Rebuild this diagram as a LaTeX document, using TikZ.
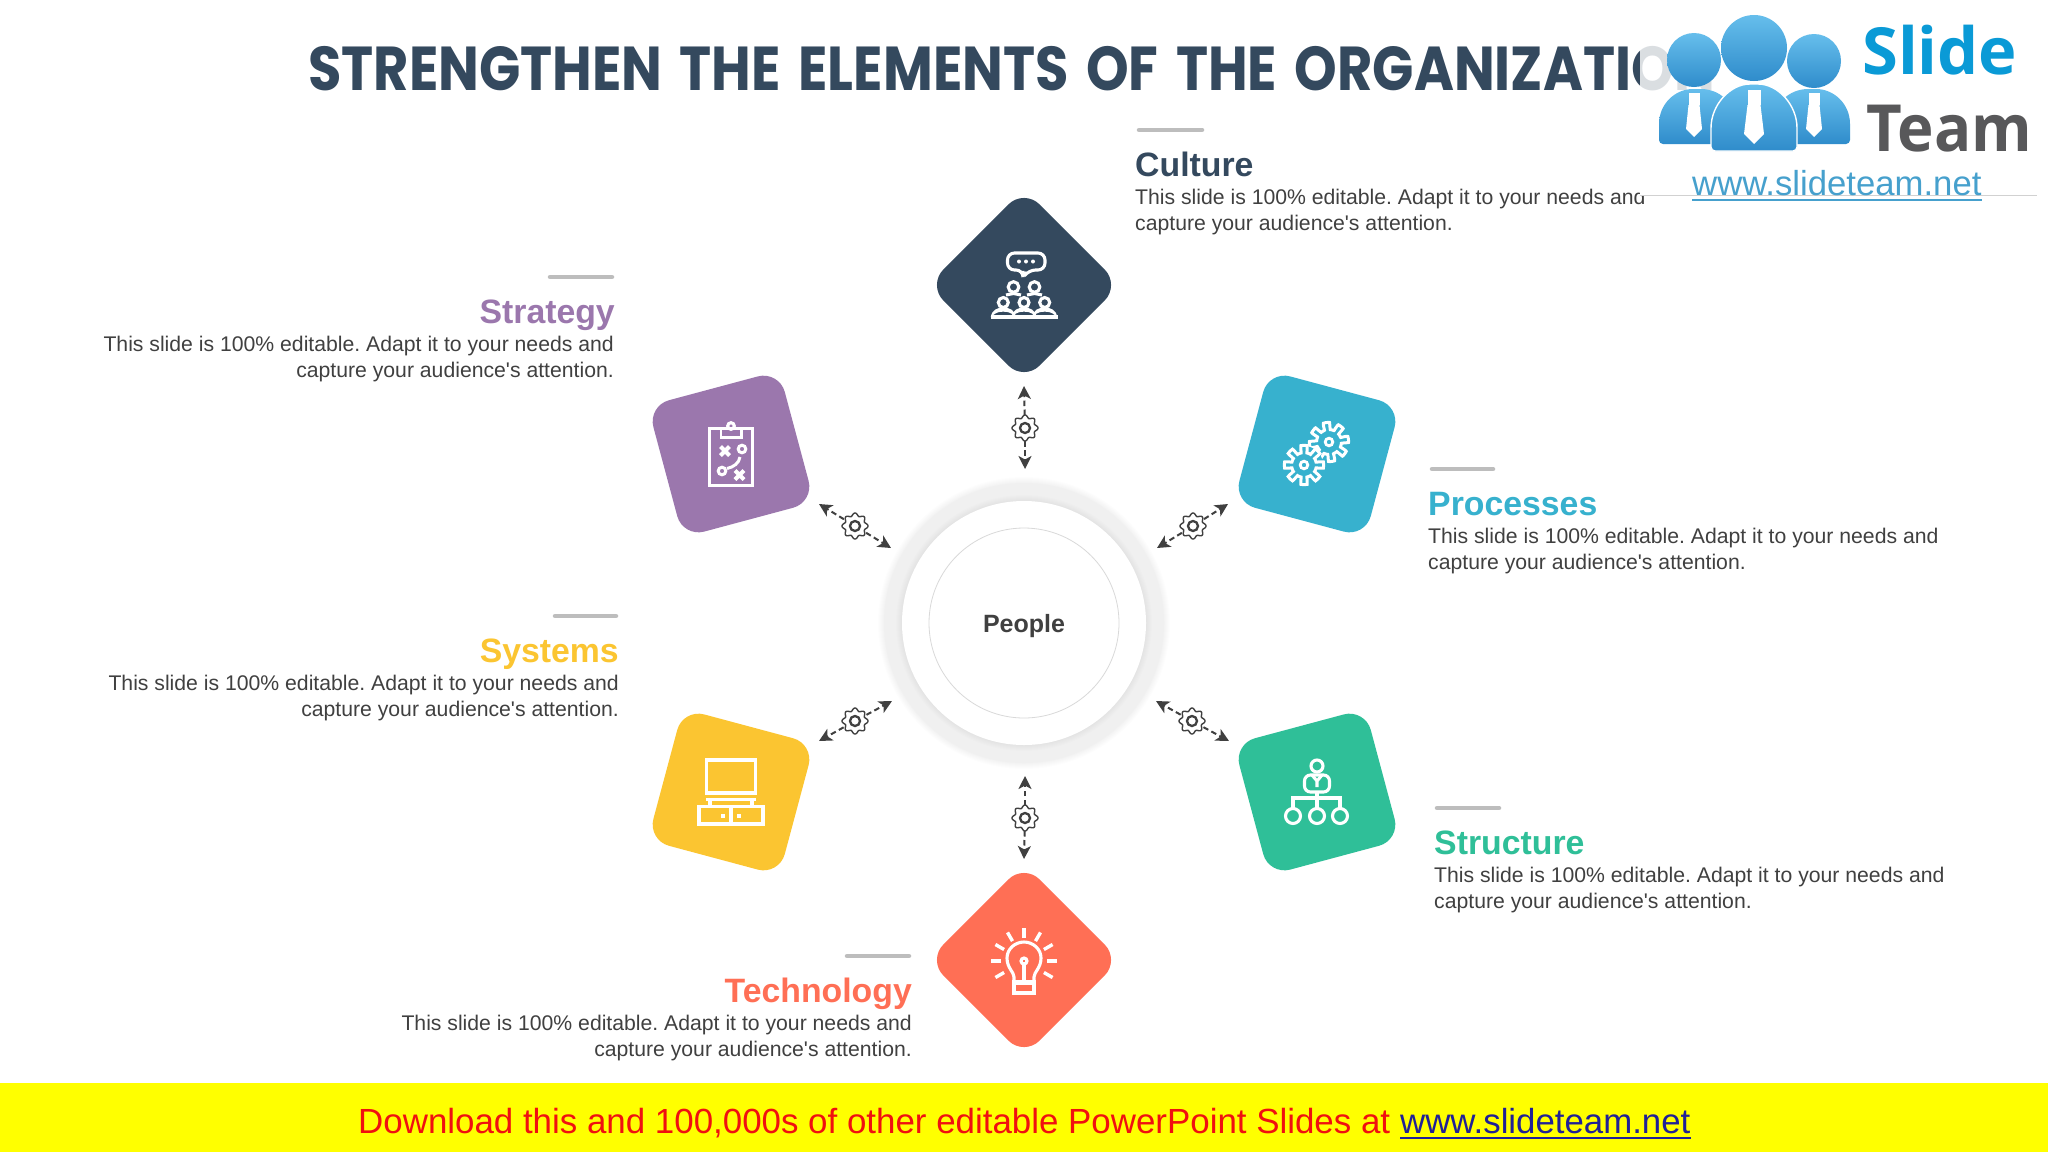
\documentclass[tikz,border=0pt]{standalone}
\usepackage{fontspec}
\setmainfont{Liberation Sans}[Ligatures=TeXOff]
\newfontfamily\titlefont{Poppins}[BoldFont={* Bold}]
\newfontfamily\logofont{Open Sans}
\usetikzlibrary{arrows.meta,calc}
\definecolor{navy}{HTML}{34495E}
\definecolor{purp}{HTML}{9B77AD}
\definecolor{sky}{HTML}{37B1CE}
\definecolor{amber}{HTML}{FBC531}
\definecolor{jade}{HTML}{2FBF98}
\definecolor{coral}{HTML}{FF6F55}
\definecolor{ink}{HTML}{404040}
\definecolor{rulegrey}{HTML}{BDBDBD}
\definecolor{bannery}{HTML}{FFFF00}
\definecolor{bannerr}{HTML}{F01010}
\definecolor{bannerb}{HTML}{202096}
\definecolor{logotop}{HTML}{66BEEC}
\definecolor{logobot}{HTML}{2F8CCB}
\definecolor{logoslide}{HTML}{0A9AD6}
\definecolor{logoteam}{HTML}{58585A}
\definecolor{logourlc}{HTML}{46A0CD}
\tikzset{
  tile/.style={fill=#1,draw=none,minimum size=136pt,inner sep=0pt,outer sep=0pt,rounded corners=22pt},
  head/.style={font=\fontsize{33.8}{36}\selectfont\bfseries,inner sep=0pt,text=#1},
  bodyL/.style={font=\fontsize{21.2}{26}\selectfont\frenchspacing,inner sep=0pt,text=ink,align=left,anchor=base west},
  bodyR/.style={font=\fontsize{21.2}{26}\selectfont\frenchspacing,inner sep=0pt,text=ink,align=right,anchor=base east},
  bar/.style={draw=rulegrey,line width=4.5pt,line cap=round},
  icon/.style={draw=white,line width=3.1pt,fill=none,line join=miter},
  cogline/.style={draw=ink,line width=1.4pt,line join=round},
  link/.style={draw=ink,line width=2pt,dash pattern=on 5.5pt off 3.5pt,-{Stealth[length=13pt,width=13pt,inset=3.5pt]}},
  hub/.style={circle,inner sep=0pt,outer sep=0pt,minimum size=26pt},
  person/.style={top color=logotop,bottom color=logobot},
}
\newcommand{\cogat}[2]{%
  \draw[cogline,fill=white] plot[domain=0:360,samples=193,variable=\t]
    ({#1+(11.6+1.4*cos(8*\t))*cos(\t)},{#2+(11.6+1.4*cos(8*\t))*sin(\t)}) -- cycle;
  \draw[draw=ink,line width=2.3pt] (#1,#2) circle (5pt);}
\newcommand{\wheel}[3]{%
  \draw[draw=white,line width=3pt,line join=miter] plot[domain=0:360,samples=241,variable=\t]
    ({#1+(16+3.6*max(-1,min(1,4*cos(8*(\t+#3)))))*cos(\t)},{#2+(16+3.6*max(-1,min(1,4*cos(8*(\t+#3)))))*sin(\t)}) -- cycle;
  \draw[draw=white,line width=2.8pt] (#1,#2) circle (3.8pt);}
\begin{document}
\begin{tikzpicture}[x=1pt,y=-1pt]
\useasboundingbox (0,0) rectangle (2048,1152);
\fill[white] (0,0) rectangle (2048,1152);

% title
\node[anchor=base west,inner sep=0pt,text=navy] (title) at (308,90)
  {\fontsize{62}{64}\titlefont\bfseries\spaceskip=\dimexpr\fontdimen2\font+7pt\relax\scalebox{0.875}[1]{STRENGTHEN THE ELEMENTS OF THE ORGANIZATION}};

% central hub
\foreach \r in {146,145,144,143,142,141}{\fill[black,opacity=0.006] (1024,623) circle (\r pt);}
\fill[black!6] (1024,623) circle (140pt);
\foreach \r in {128,127,126,125,124,123}{\fill[black,opacity=0.007] (1024,623) circle (\r pt);}
\node[circle,fill=white,minimum size=244pt,inner sep=0pt] (hub) at (1024,623) {};
\node[circle,draw=black!15,line width=0.8pt,minimum size=190pt,inner sep=0pt] (people) at (1024,623) {};
\node[anchor=base,inner sep=0pt,font=\fontsize{25}{28}\selectfont\bfseries,text=ink] (peoplelabel) at (1024,632) {People};

% tiles
\node[tile=navy,rotate=45] (culture) at (1024,285) {};
\node[tile=purp,rotate=15] (strategy) at (731,454) {};
\node[tile=sky,rotate=-15] (processes) at (1317,454) {};
\node[tile=amber,rotate=-15] (systems) at (731,792) {};
\node[tile=jade,rotate=15] (structure) at (1317,792) {};
\node[tile=coral,rotate=45] (technology) at (1024,960) {};

% connectors
\foreach \n/\gx/\gy/\ax/\ay/\bx/\by in {
  cu/1025/428/1024/386/1025/469,
  st/855/526/819/504/891/548,
  pr/1193/526/1228/504/1157/548,
  sy/855/721/819/741/892/701,
  sr/1192/721/1156/701/1229/741,
  te/1025/818/1025/776/1024/859}{
  \node[hub] (g\n) at (\gx,\gy) {};
  \coordinate (a\n) at (\ax,\ay);
  \coordinate (b\n) at (\bx,\by);
  \draw[link] (g\n) -- (a\n);
  \draw[link] (g\n) -- (b\n);
  \cogat{\gx}{\gy}
}

% culture icon
\begin{scope}[shift={(culture.center)}]
  \draw[icon,rounded corners=7pt] (-16.5,-32) -- (21,-32) -- (21,-15) -- (4.5,-15) -- (-1,-7) -- (-1,-15) -- (-16.5,-15) -- cycle;
  \foreach \x in {-5,2,9}{\fill[white] (\x,-23.5) circle (2pt);}
  \foreach \x in {-10.5,10.5}{\draw[icon] (\x,2) circle (5.3pt);}
  \foreach \x in {-20.7,0,20.7}{
    \draw[icon] (\x,17.5) circle (5pt);
    \fill[white] (\x-12.5,32) .. controls (\x-11.5,25) and (\x-6,22.5) .. (\x,22.5) .. controls (\x+6,22.5) and (\x+11.5,25) .. (\x+12.5,32) -- (\x+8,28.5) .. controls (\x+5,26) and (\x-5,26) .. (\x-8,28.5) -- cycle;
  }
  \draw[icon] (-18,10) -- (-10.5,8.5) -- (-3,10);
  \draw[icon] (3,10) -- (10.5,8.5) -- (18,10);
  \fill[white] (-33.5,29.5) rectangle (33.5,33.5);
\end{scope}

% strategy icon
\begin{scope}[shift={(strategy.center)}]
  \draw[icon] (-21.5,-25.5) rectangle (21.5,31.5);
  \fill[white] (-11.5,-24) rectangle (12,-15);
  \fill[purp] (-8.6,-24) rectangle (9.1,-18);
  \fill[white] (-11.5,-27) rectangle (12,-24);
  \draw[icon] (0,-28) circle (3.3pt);
  \draw[draw=white,line width=4pt] (-10.5,-7.5) -- (-1.5,1.5) (-10.5,1.5) -- (-1.5,-7.5);
  \draw[draw=white,line width=4pt] (4,16.5) -- (13,25.5) (4,25.5) -- (13,16.5);
  \draw[draw=white,line width=3pt] (11,-5) circle (3.8pt);
  \draw[draw=white,line width=3pt] (-9,17) circle (3.8pt);
  \draw[draw=white,line width=3pt] (-4,14.5) .. controls (3,13) and (8,9) .. (9,3);
\end{scope}

% processes icon
\begin{scope}[shift={(processes.center)}]
  \wheel{12}{-12}{8}
  \fill[sky] (-13,11) circle (19pt);
  \wheel{-13}{11}{0}
\end{scope}

% systems icon
\begin{scope}[shift={(systems.center)}]
  \draw[icon] (-24.5,-32) rectangle (24.5,1);
  \draw[icon] (-21,7.5) -- (-21,14.5) (21,7.5) -- (21,14.5) (-25,7.5) -- (25,7.5);
  \draw[icon] (-32,14.5) rectangle (32,32);
  \draw[icon] (0,14.5) -- (0,32);
  \fill[white] (-9.7,22) rectangle (-5.7,26);
  \fill[white] (6,22) rectangle (10,26);
\end{scope}

% structure icon
\begin{scope}[shift={(structure.center)}]
  \draw[icon] (0,-26) circle (6pt);
  \draw[icon,rounded corners=6pt] (-12.5,0) -- (-12.5,-17) -- (12.5,-17) -- (12.5,0) -- cycle;
  \draw[icon] (-5,-17) -- (0,-11) -- (5,-17) (0,-11) -- (0,-5);
  \draw[icon] (0,0) -- (0,6) (-24,16) -- (-24,6) -- (23,6) -- (23,16) (0,6) -- (0,16);
  \foreach \x in {-24,0,23}{\draw[icon] (\x,24) circle (7.5pt);}
\end{scope}

% technology icon
\begin{scope}[shift={(technology.center)}]
  \draw[icon] (-10,22) -- (-10,17) .. controls (-10,12) and (-17,8) .. (-17,-2) .. controls (-17,-11) and (-9,-18) .. (0,-18) .. controls (9,-18) and (17,-11) .. (17,-2) .. controls (17,8) and (10,12) .. (10,17) -- (10,22);
  \draw[icon] (-10,22) rectangle (10,33);
  \fill[white] (-10,22) rectangle (10,25);
  \draw[icon] (0,1) circle (3pt);
  \draw[icon] (0,4) -- (0,22);
  \foreach \a in {0,30,60,90,120,150,180,210,330}{
    \draw[draw=white,line width=3.4pt] ({23*cos(\a)},{1-23*sin(\a)}) -- ({33*cos(\a)},{1-33*sin(\a)});
  }
\end{scope}

% texts
\draw[bar] (1139,130) coordinate (ru1) -- (1202,130) coordinate (ru1e);
\node[head=navy,anchor=base west] (h1) at (1135,176) {Culture};
\node[bodyL] (t1) at (1135,230) {This slide is 100\% editable. Adapt it to your needs and\\capture your audience's attention.};

\draw[bar] (550,277) coordinate (ru2) -- (612,277) coordinate (ru2e);
\node[head=purp,anchor=base east] (h2) at (615,323) {Strategy};
\node[bodyR] (t2) at (614,377) {This slide is 100\% editable. Adapt it to your needs and\\capture your audience's attention.};

\draw[bar] (1432,469) coordinate (ru3) -- (1493,469) coordinate (ru3e);
\node[head=sky,anchor=base west] (h3) at (1428,515) {Processes};
\node[bodyL] (t3) at (1428,569) {This slide is 100\% editable. Adapt it to your needs and\\capture your audience's attention.};

\draw[bar] (555,616) coordinate (ru4) -- (616,616) coordinate (ru4e);
\node[head=amber,anchor=base east] (h4) at (619,662) {Systems};
\node[bodyR] (t4) at (619,716) {This slide is 100\% editable. Adapt it to your needs and\\capture your audience's attention.};

\draw[bar] (1437,808) coordinate (ru5) -- (1499,808) coordinate (ru5e);
\node[head=jade,anchor=base west] (h5) at (1434,854) {Structure};
\node[bodyL] (t5) at (1434,908) {This slide is 100\% editable. Adapt it to your needs and\\capture your audience's attention.};

\draw[bar] (847,956) coordinate (ru6) -- (909,956) coordinate (ru6e);
\node[head=coral,anchor=base east] (h6) at (912,1002) {Technology};
\node[bodyR] (t6) at (912,1056) {This slide is 100\% editable. Adapt it to your needs and\\capture your audience's attention.};

% banner
\fill[bannery] (0,1083) rectangle (2048,1152);
\node[anchor=base west,inner sep=0pt,text=bannerr,font=\fontsize{34.9}{36}\selectfont\frenchspacing] (ad) at (358,1133)
  {Download this and 100,000s of other editable PowerPoint Slides at};
\node[anchor=base west,inner sep=0pt,text=bannerb,font=\fontsize{34.8}{36}\selectfont] (adurl) at (1400,1133) {www.slideteam.net};
\draw[draw=bannerb,line width=2.6pt] ([yshift=-5pt]adurl.base west) -- ([yshift=-5pt]adurl.base east);

% logo panel
\fill[white,opacity=0.82] (1640,0) rectangle (2048,100);
\fill[white] (1640,100) rectangle (2048,195.5);
\draw[draw=black!18,line width=0.8pt] (1640,195.5) -- (2037,195.5);
\shade[person] (1694,60) circle (27pt);
\shade[person] (1814,61) circle (27pt);
\shade[person,rounded corners=4pt] (1659,144) -- (1659,128) .. controls (1659,104) and (1675,89) .. (1697,89) .. controls (1720,89) and (1736,104) .. (1736,128) -- (1736,144) -- cycle;
\shade[person,rounded corners=4pt] (1773,144) -- (1773,128) .. controls (1773,104) and (1789,89) .. (1812,89) .. controls (1834,89) and (1850,104) .. (1850,128) -- (1850,144) -- cycle;
\foreach \c/\t/\b in {1694/93/137,1814/93/137}{
  \fill[white] (\c-5.5,\t) rectangle (\c+5.5,\t+12);
  \fill[white] (\c-5.5,\t+12) -- (\c+5.5,\t+12) -- (\c+8,\b-8) -- (\c,\b) -- (\c-8,\b-8) -- cycle;
}
\shade[person] (1754,48) circle (33pt);
\draw[white,line width=1.4pt,person,rounded corners=4pt] (1711,151) -- (1711,132) .. controls (1711,105) and (1730,84) .. (1754,84) .. controls (1778,84) and (1797,105) .. (1797,132) -- (1797,151) -- cycle;
\fill[white] (1747.5,90) rectangle (1760.5,105);
\fill[white] (1747.5,105) -- (1760.5,105) -- (1764,134) -- (1754,144) -- (1744,134) -- cycle;
\node[anchor=base west,inner sep=0pt,text=logoslide,font=\fontsize{65}{68}\logofont\bfseries] (slide) at (1862,74) {Slide};
\node[anchor=base west,inner sep=0pt,text=logoteam] (team) at (1866,151) {\fontsize{65}{68}\logofont\bfseries\scalebox{0.95}[1]{Team}};
\node[anchor=base west,inner sep=0pt,text=logourlc,font=\fontsize{34.7}{36}\selectfont] (logourl) at (1692,195) {www.slideteam.net};
\draw[draw=logourlc,line width=2.6pt] ([yshift=-5pt]logourl.base west) -- ([yshift=-5pt]logourl.base east);
\end{tikzpicture}
\end{document}
